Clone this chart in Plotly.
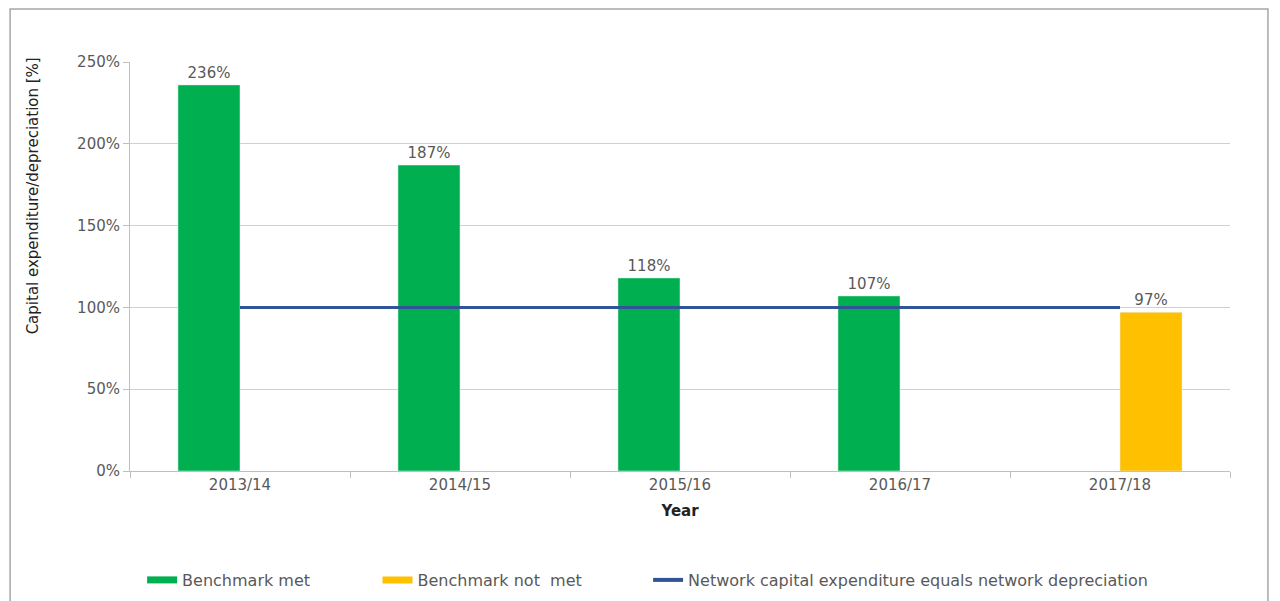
import plotly.graph_objects as go

years = ["2013/14", "2014/15", "2015/16", "2016/17", "2017/18"]
met = [236, 187, 118, 107, None]
not_met = [None, None, None, None, 97]
line_x = ["2013/14", "2014/15", "2015/16", "2016/17", "2017/18"]
line_y = [100, 100, 100, 100, 100]
y_ticks = [0, 50, 100, 150, 200, 250]
y_tick_text = ["0%", "50%", "100%", "150%", "200%", "250%"]

GREEN = "#00b050"
YELLOW = "#ffc000"
BLUE = "#2f5597"
GREY = "#595959"
FONT = "DejaVu Sans"

fig = go.Figure()
fig.add_trace(go.Bar(x=years, y=met, name="Benchmark met", marker_color=GREEN,
                     texttemplate="%{y}%", textposition="outside", showlegend=False,
                     textfont=dict(color=GREY, size=15), cliponaxis=False))
fig.add_trace(go.Bar(x=years, y=not_met, name="Benchmark not  met", marker_color=YELLOW,
                     texttemplate="%{y}%", textposition="outside", showlegend=False,
                     textfont=dict(color=GREY, size=15), cliponaxis=False))
fig.add_trace(go.Scatter(x=line_x, y=line_y, mode="lines", showlegend=False,
                         name="Network capital expenditure equals network depreciation",
                         line=dict(color=BLUE, width=3)))

# legend entries (swatches)
fig.add_trace(go.Scatter(x=[None], y=[None], mode="lines", name="Benchmark met",
                         line=dict(color=GREEN, width=7), legend="legend"))
fig.add_trace(go.Scatter(x=[None], y=[None], mode="lines", name="Benchmark not  met",
                         line=dict(color=YELLOW, width=7), legend="legend2"))
fig.add_trace(go.Scatter(x=[None], y=[None], mode="lines",
                         name="Network capital expenditure equals network depreciation",
                         line=dict(color=BLUE, width=4), legend="legend3"))

leg_common = dict(orientation="h", yanchor="middle", xanchor="left", y=-0.2665,
                  font=dict(size=16, color=GREY, family=FONT), bgcolor="rgba(0,0,0,0)")

fig.update_layout(
    width=1280, height=601,
    margin=dict(l=122, r=58, t=54, b=138),
    paper_bgcolor="white", plot_bgcolor="white",
    font=dict(family=FONT, size=15, color=GREY),
    barmode="group", bargap=0.436, bargroupgap=0,
    showlegend=True,
    legend=dict(x=0.011, **leg_common),
    legend2=dict(x=0.225, **leg_common),
    legend3=dict(x=0.471, **leg_common),
    xaxis=dict(type="category", showline=True, linecolor="#bfbfbf", linewidth=1,
               ticks="outside", tickson="boundaries", ticklen=6, tickcolor="#bfbfbf",
               showgrid=False, tickfont=dict(size=15, color=GREY),
               title=dict(text="<b>Year</b>", font=dict(size=15, color="#222222"), standoff=12)),
    yaxis=dict(range=[0, 250], tickvals=y_ticks, ticktext=y_tick_text,
               showline=True, linecolor="#bfbfbf", linewidth=1,
               ticks="outside", ticklen=6, tickcolor="#bfbfbf",
               showgrid=True, gridcolor="#d0d0d0", gridwidth=1, zeroline=False,
               tickfont=dict(size=15, color=GREY)),
    annotations=[dict(text="Capital expenditure/depreciation [%]", textangle=-90,
                      xref="paper", yref="paper", x=-0.088, y=0.672,
                      xanchor="center", yanchor="middle", showarrow=False,
                      font=dict(size=15, color="#222222", family=FONT))],
    shapes=[dict(type="rect", xref="paper", yref="paper",
                 x0=-0.109, x1=1.0345, y0=-0.33, y1=1.1296,
                 line=dict(color="#a6a6a6", width=1.5), fillcolor="rgba(0,0,0,0)", layer="below")],
)

fig.write_html("out.html")
